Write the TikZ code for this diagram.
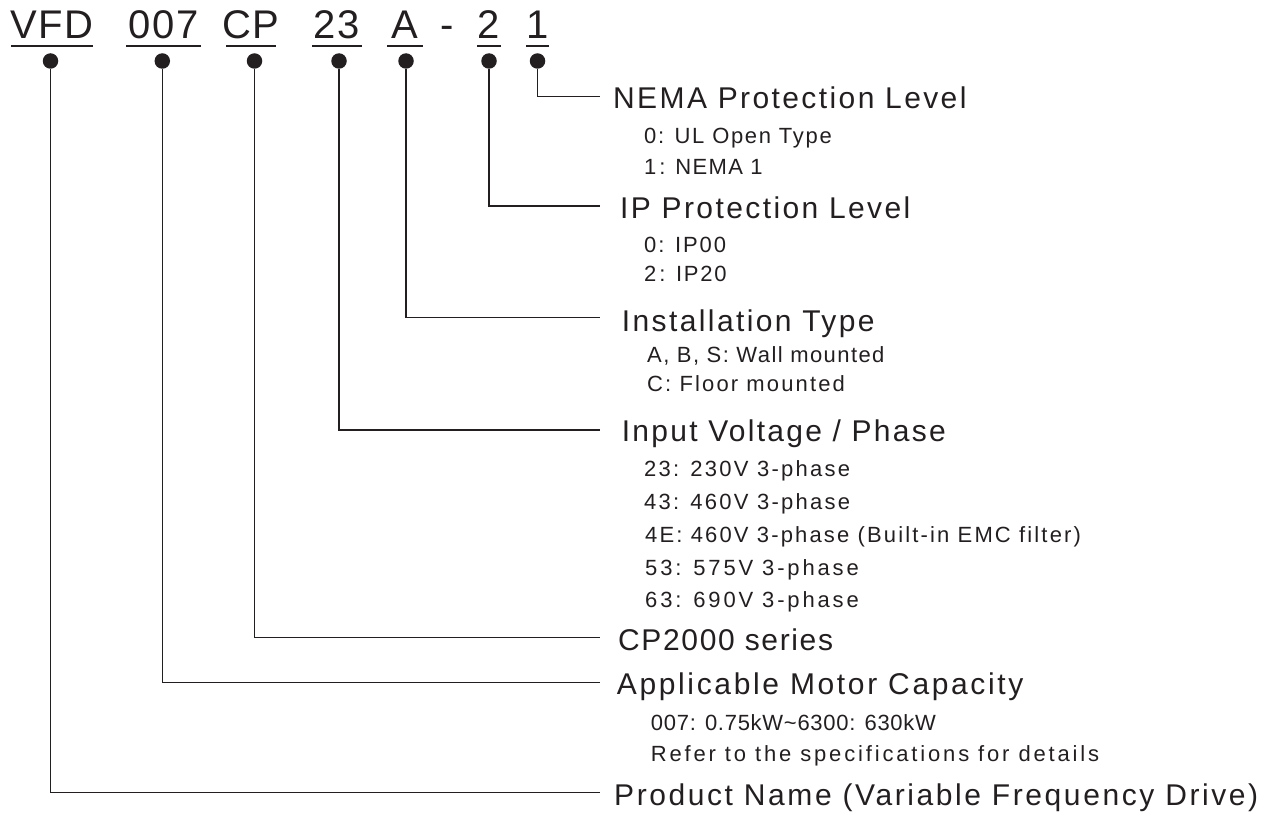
\documentclass[tikz,border=0pt]{standalone}
\usepackage{fontspec}
\setmainfont{Liberation Sans}
\definecolor{ink}{HTML}{231F20}
\newcommand\lsp[2]{{\addfontfeature{LetterSpace=#1}#2}}
\begin{document}
\begin{tikzpicture}[x=1pt,y=-1pt,
  head/.style={anchor=base west, inner sep=0pt, text=ink, font=\fontsize{30}{36}\selectfont},
  sub/.style={anchor=base west, inner sep=0pt, text=ink, font=\fontsize{22}{26}\selectfont},
  code/.style={anchor=base, inner sep=0pt, text=ink, font=\fontsize{40}{48}\selectfont},
  uline/.style={draw=ink, line width=2pt},
  dotmark/.style={circle, fill=ink, inner sep=0pt, minimum size=15.5pt},
  conn/.style={draw=ink, line width=1.4pt}]
\useasboundingbox (0,0) rectangle (1274,816);
% header code
\node[code] (cVFD) at (52,39) {\lsp{4}{VFD}};
\node[code] (c007) at (163.5,39) {\lsp{4}{007}};
\node[code] (cCP) at (251,39) {\lsp{4}{CP}};
\node[code] (c23) at (337,39) {\lsp{4}{23}};
\node[code] (cA) at (405,39) {A};
\node[code] (cdash) at (447,39) {-};
\node[code] (c2) at (489,39) {2};
\node[code] (c1) at (537.5,39) {1};
\draw[uline] (11,45.7) -- (93,45.7);
\draw[uline] (126,45.7) -- (201,45.7);
\draw[uline] (226,45.7) -- (276,45.7);
\draw[uline] (312,45.7) -- (362,45.7);
\draw[uline] (387,45.7) -- (423,45.7);
\draw[uline] (477,45.7) -- (501,45.7);
\draw[uline] (526,45.7) -- (549,45.7);
% dots
\node[dotmark] (dVFD) at (50.5,61) {};
\node[dotmark] (d007) at (162.3,61) {};
\node[dotmark] (dCP) at (254.5,61) {};
\node[dotmark] (d23) at (339,61) {};
\node[dotmark] (dA) at (406,61) {};
\node[dotmark] (d2) at (489,61) {};
\node[dotmark] (d1) at (537.5,61) {};
% connector ends
\coordinate (e1) at (600,96.7);
\coordinate (e2) at (600,206);
\coordinate (eA) at (600,317.5);
\coordinate (e23) at (600,430);
\coordinate (eCP) at (600,637.3);
\coordinate (e007) at (600,682.7);
\coordinate (eVFD) at (600,792.5);
\draw[conn] (d1) |- (e1);
\draw[conn] (d2) |- (e2);
\draw[conn] (dA) |- (eA);
\draw[conn] (d23) |- (e23);
\draw[conn] (dCP) |- (eCP);
\draw[conn] (d007) |- (e007);
\draw[conn] (dVFD) |- (eVFD);
% labels
\node[head] (l1) at (613,108) {\lsp{8}{NEMA Protection Level}};
\node[sub] (l1a) at (644,143) {\lsp{7.7}{0: UL Open Type}};
\node[sub] (l1b) at (644,174) {\lsp{6}{1\kern3pt: NEMA 1}};
\node[head] (l2) at (620,218) {\lsp{8}{IP Protection Level}};
\node[sub] (l2a) at (644,252.7) {\lsp{8.6}{0: IP00}};
\node[sub] (l2b) at (644,281.7) {\lsp{8}{2\kern3pt: IP20}};
\node[head] (lA) at (621.7,331.7) {\lsp{8}{Installation Type}};
\node[sub] (lAa) at (647,362.7) {\lsp{6.5}{A, B, S: Wall mounted}};
\node[sub] (lAb) at (647,391.7) {\lsp{9.7}{C: Floor mounted}};
\node[head] (l23) at (621.7,441.7) {\lsp{7.6}{Input Voltage / Phase}};
\node[sub] (l23a) at (644,476.7) {\lsp{10.3}{23: 230V 3-phase}};
\node[sub] (l23b) at (644,509.3) {\lsp{10.3}{43: 460V 3-phase}};
\node[sub] (l23c) at (645,542.7) {\lsp{9.8}{4E: 460V 3-phase (Built-in EMC filter)}};
\node[sub] (l23d) at (645,575.7) {\lsp{12.9}{53: 575V 3-phase}};
\node[sub] (l23e) at (645,607.3) {\lsp{12.9}{63: 690V 3-phase}};
\node[head] (lCP) at (618,650.7) {\lsp{5.5}{CP2000 series}};
\node[head] (l007) at (616.7,694) {\lsp{8.8}{Applicable Motor Capacity}};
\node[sub] (l007a) at (650.7,730.7) {\lsp{3.3}{007: 0.75kW\textasciitilde6300: 630kW}};
\node[sub] (l007b) at (650.7,761.7) {\lsp{12.9}{Refer to the specifications for details}};
\node[head] (lVFD) at (614,805) {\lsp{8.6}{Product Name (Variable Frequency Drive)}};
\end{tikzpicture}
\end{document}
